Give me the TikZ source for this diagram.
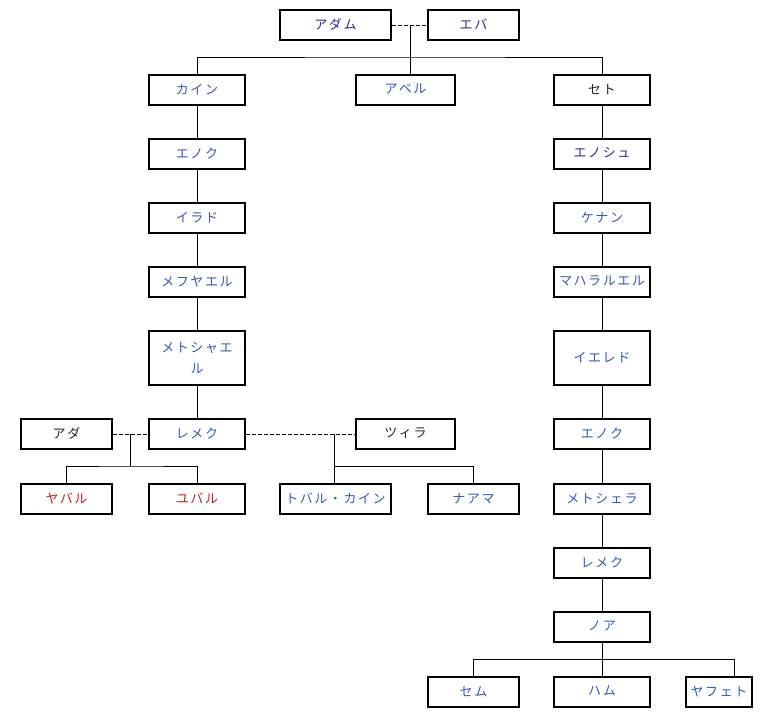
\documentclass[tikz,border=0pt]{standalone}
\usepackage{fontspec}
\newfontfamily\jp[LetterSpace=12]{Noto Sans CJK JP}
\definecolor{tblue}{HTML}{3358B8}
\definecolor{tnavy}{HTML}{2B2B90}
\definecolor{tred}{HTML}{CC1A1A}
\definecolor{tblack}{HTML}{262626}
\begin{document}
\begin{tikzpicture}[x=1pt,y=-1pt,
  person/.style={draw=black, line width=2.2pt, minimum height=30pt, inner sep=0pt,
     font=\jp\fontsize{13}{21}\selectfont, text=tblue, align=center},
  tall/.style={minimum height=54pt},
  conn/.style={line width=0.9pt},
  marr/.style={line width=0.9pt, dash pattern=on 4pt off 2pt}]
\useasboundingbox (0,0) rectangle (766,716);
% top
\node[person, minimum width=111pt, text=tnavy] (adam) at (335.5,25) {\raisebox{2pt}{アダム}};
\node[person, minimum width=91pt, text=tnavy] (eve) at (473.5,25) {\raisebox{2pt}{エバ}};
% generation 2
\node[person, minimum width=96pt] (cain) at (197,90) {\raisebox{2pt}{カイン}};
\node[person, minimum width=99pt] (abel) at (405.5,90) {\raisebox{2pt}{アベル}};
\node[person, minimum width=96pt, text=tblack] (seth) at (602,90) {\raisebox{2pt}{セト}};
% Cain line
\node[person, minimum width=96pt] (enoch1) at (197,154) {\raisebox{2pt}{エノク}};
\node[person, minimum width=96pt] (irad) at (197,218) {\raisebox{2pt}{イラド}};
\node[person, minimum width=96pt] (mehujael) at (197,282) {\raisebox{2pt}{メフヤエル}};
\node[person, tall, minimum width=96pt] (methushael) at (197,358) {メトシャエ\\ル};
\node[person, minimum width=96pt] (lamech1) at (197,434) {\raisebox{2pt}{レメク}};
\node[person, minimum width=91pt, text=tblack] (adah) at (66.5,434) {\raisebox{2pt}{アダ}};
\node[person, minimum width=99pt, text=tblack] (zillah) at (405.5,434) {\raisebox{2pt}{ツィラ}};
\node[person, minimum width=91pt, text=tred] (jabal) at (66.5,499) {\raisebox{2pt}{ヤバル}};
\node[person, minimum width=96pt, text=tred] (jubal) at (197,499) {\raisebox{2pt}{ユバル}};
\node[person, minimum width=111pt] (tubal) at (335.5,499) {\raisebox{2pt}{トバル・カイン}};
\node[person, minimum width=91pt] (naamah) at (473.5,499) {\raisebox{2pt}{ナアマ}};
% Seth line
\node[person, minimum width=96pt, text=tnavy] (enosh) at (602,154) {\raisebox{2pt}{エノシュ}};
\node[person, minimum width=96pt] (kenan) at (602,218) {\raisebox{2pt}{ケナン}};
\node[person, minimum width=96pt] (mahalalel) at (602,282) {\raisebox{2pt}{マハラルエル}};
\node[person, tall, minimum width=96pt] (jared) at (602,358) {\raisebox{2pt}{イエレド}};
\node[person, minimum width=96pt] (enoch2) at (602,434) {\raisebox{2pt}{エノク}};
\node[person, minimum width=96pt] (methuselah) at (602,499) {\raisebox{2pt}{メトシェラ}};
\node[person, minimum width=96pt] (lamech2) at (602,563) {\raisebox{2pt}{レメク}};
\node[person, minimum width=96pt] (noah) at (602,627) {\raisebox{2pt}{ノア}};
\node[person, minimum width=91pt] (shem) at (473.5,692) {\raisebox{2pt}{セム}};
\node[person, minimum width=96pt] (ham) at (602,692) {\raisebox{2pt}{ハム}};
\node[person, minimum width=66pt] (japheth) at (719,692) {\raisebox{2pt}{ヤフェト}};
% coordinates
\coordinate (m1) at (410,25);
\coordinate (b1) at (410,57);
\coordinate (m2) at (130,434);
\coordinate (b2) at (130,466);
\coordinate (m3) at (334,434);
\coordinate (b3) at (334,466);
\coordinate (b4) at (602,659);
\coordinate (b5) at (734,659);
% marriages
\draw[marr] (adam.east) -- (eve.west);
\draw[marr] (adah.east) -- (lamech1.west);
\draw[marr] (lamech1.east) -- (zillah.west);
% Adam & Eve children
\draw[conn] (m1) -- (b1);
\draw[conn] (cain.north) |- (b1) -| (seth.north);
\draw[conn] (b1) -- (b1 |- abel.north);
% chains
\draw[conn] (cain.south) -- (enoch1.north);
\draw[conn] (enoch1.south) -- (irad.north);
\draw[conn] (irad.south) -- (mehujael.north);
\draw[conn] (mehujael.south) -- (methushael.north);
\draw[conn] (methushael.south) -- (lamech1.north);
\draw[conn] (seth.south) -- (enosh.north);
\draw[conn] (enosh.south) -- (kenan.north);
\draw[conn] (kenan.south) -- (mahalalel.north);
\draw[conn] (mahalalel.south) -- (jared.north);
\draw[conn] (jared.south) -- (enoch2.north);
\draw[conn] (enoch2.south) -- (methuselah.north);
\draw[conn] (methuselah.south) -- (lamech2.north);
\draw[conn] (lamech2.south) -- (noah.north);
% Lamech's children
\draw[conn] (m2) -- (b2);
\draw[conn] (jabal.north) |- (b2) -| (jubal.north);
\draw[conn] (m3) -- (b3);
\draw[conn] (b3) -- (b3 |- tubal.north);
\draw[conn] (b3) -| (naamah.north);
% Noah's children
\draw[conn] (noah.south) -- (ham.north);
\draw[conn] (shem.north) |- (b4) -- (b5);
\draw[conn] (b5) -- (b5 |- japheth.north);
\end{tikzpicture}
\end{document}
